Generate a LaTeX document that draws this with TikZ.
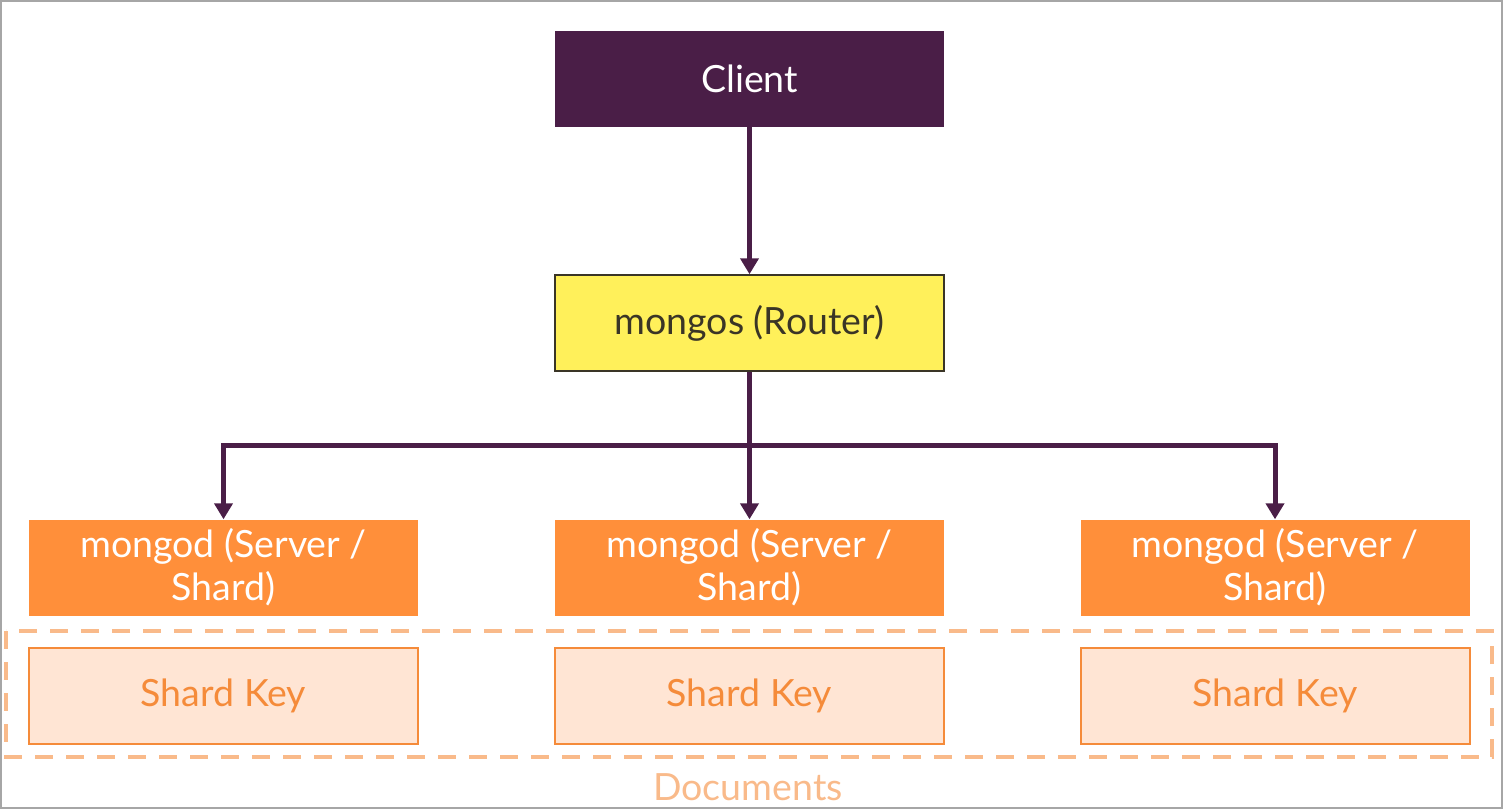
\documentclass[tikz,border=0pt]{standalone}
\usepackage{fontspec}
\setmainfont{Lato}
\definecolor{clientpurple}{HTML}{4A1E47}
\definecolor{routeryellow}{HTML}{FFF05A}
\definecolor{routertext}{HTML}{3A3526}
\definecolor{shardorange}{HTML}{FF8F3A}
\definecolor{keyfill}{HTML}{FFE5D4}
\definecolor{keyline}{HTML}{F58B3A}
\definecolor{docline}{HTML}{F9BA8A}
\usetikzlibrary{arrows.meta, positioning}

\begin{document}
\begin{tikzpicture}[x=1pt, y=-1pt,
  box/.style={minimum width=389pt, minimum height=96pt, inner sep=0pt,
              align=center, font=\fontsize{37.5}{43}\selectfont},
  flow/.style={draw=clientpurple, line width=5pt,
               -{Triangle[length=16pt, width=18pt]}}]
\useasboundingbox (0,0) rectangle (1503,809);
\draw[gray!70, line width=2pt] (1,1) rectangle (1502,808);

% client and router
\node[box, fill=clientpurple, text=white] (client) at (749.5,79) {Client};
\node[box, fill=routeryellow, draw=routertext, line width=1.5pt, text=routertext]
  (router) at (749.5,323) {mongos (Router)};

% servers
\node[box, fill=shardorange, text=white] (srvA) at (223.5,567.5) {mongod (Server /\\Shard)};
\node[box, fill=shardorange, text=white] (srvB) at (749.5,567.5) {mongod (Server /\\Shard)};
\node[box, fill=shardorange, text=white] (srvC) at (1275,567.5) {mongod (Server /\\Shard)};

% shard keys
\node[box, fill=keyfill, draw=keyline, line width=2pt, text=keyline, below=31pt of srvA] (keyA) {Shard Key};
\node[box, fill=keyfill, draw=keyline, line width=2pt, text=keyline, below=31pt of srvB] (keyB) {Shard Key};
\node[box, fill=keyfill, draw=keyline, line width=2pt, text=keyline, below=31pt of srvC] (keyC) {Shard Key};

\draw[docline, line width=4pt, dash pattern=on 18pt off 13pt] (6,631) rectangle (1492,757);
\node[text=docline, font=\fontsize{37.5}{40}\selectfont] (docs) at (748,787) {Documents};

% arrows
\coordinate (split) at (749.5,445);
\draw[flow] (client) -- (router);
\draw[flow] (router) -- (srvB);
\draw[flow, shorten <=-2.5pt] (split) -| (srvA);
\draw[flow, shorten <=-2.5pt] (split) -| (srvC);
\end{tikzpicture}
\end{document}
